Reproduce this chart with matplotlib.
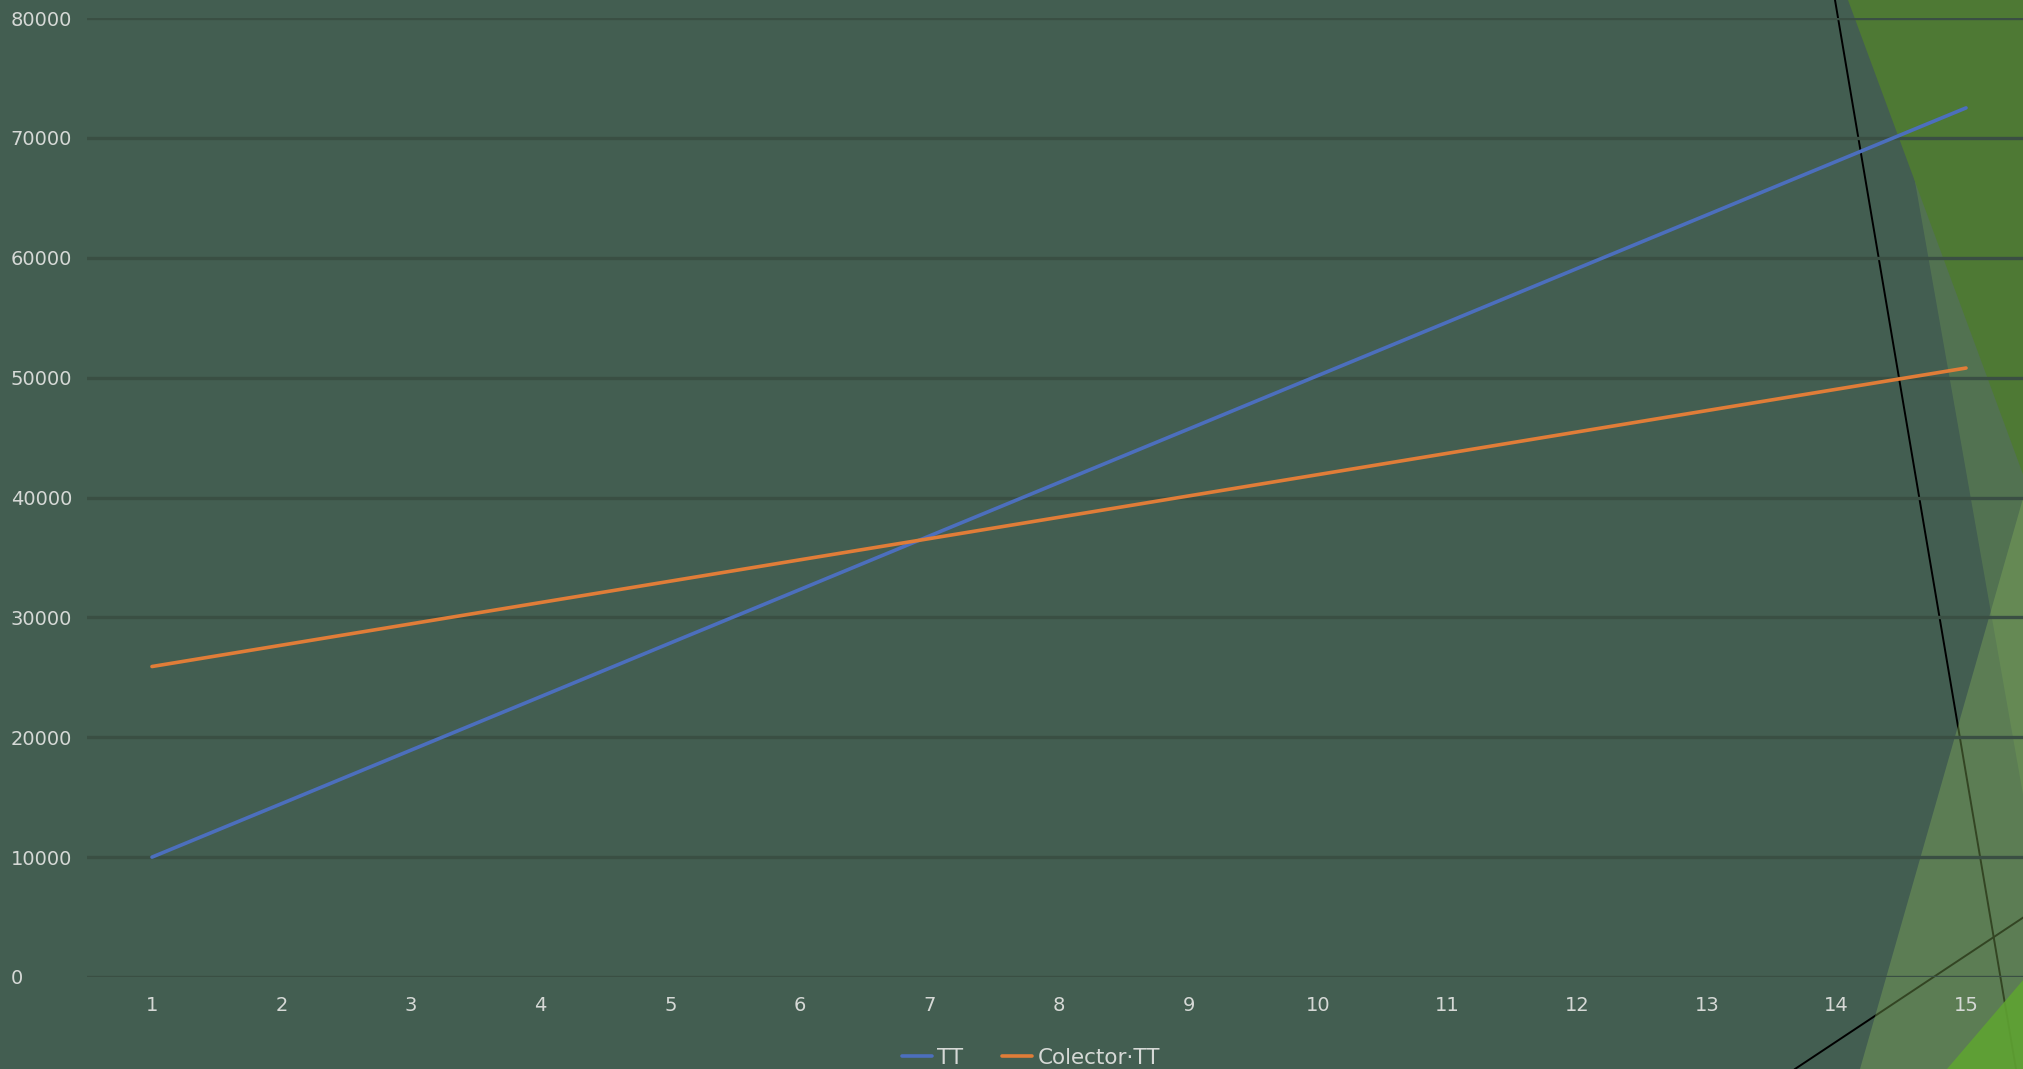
import matplotlib
matplotlib.use("Agg")
import matplotlib.pyplot as plt
from matplotlib.patches import Polygon

# series values per period
periods = list(range(1, 16))
tt = [10000, 14460, 18930, 23390, 27860, 32320, 36790, 41250,
      45710, 50180, 54640, 59110, 63570, 68040, 72500]
colector_tt = [25900, 27680, 29460, 31240, 33020, 34800, 36570, 38350,
               40130, 41910, 43690, 45470, 47250, 49030, 50800]
series_names = ["TT", "Colector·TT"]
y_ticks = [0, 10000, 20000, 30000, 40000, 50000, 60000, 70000, 80000]

BG = "#435e51"
TEXT = "#d6d9d6"
W, H = 2024, 1069

fig = plt.figure(figsize=(W / 100, H / 100), dpi=100, facecolor=BG)

# slide decoration behind the chart (pixel space)
deco = fig.add_axes([0, 0, 1, 1])
deco.set_xlim(0, W)
deco.set_ylim(H, 0)
deco.axis("off")
deco.set_facecolor(BG)
deco.add_patch(Polygon([(1883, 0), (W, 0), (W, 800)], closed=True,
                       facecolor="#6f9a52", alpha=0.35, lw=0, zorder=1))
deco.add_patch(Polygon([(1848, 0), (W, 0), (W, 477)], closed=True,
                       facecolor="#4e7934", lw=0, zorder=2))
deco.plot([1835, 2016], [0, 1069], color="black", lw=1.4, zorder=3)
deco.plot([1795, W], [1069, 917], color="black", lw=1.4, zorder=3)
deco.add_patch(Polygon([(W, 495), (W, H), (1860, H)], closed=True,
                       facecolor="#82ad5a", alpha=0.4, lw=0, zorder=4))
deco.add_patch(Polygon([(W, 979), (W, H), (1947, H)], closed=True,
                       facecolor="#5fa332", alpha=0.9, lw=0, zorder=5))

ax = fig.add_axes([87.2 / W, 1 - 977 / H, (2030.8 - 87.2) / W, (977 - 18) / H])
ax.patch.set_alpha(0)
ax.set_xlim(0.5, 15.5)
ax.set_ylim(0, 80000)

ax.set_yticks(y_ticks)
ax.set_yticklabels([str(v) for v in y_ticks])
ax.set_xticks(periods)
ax.set_xticklabels([str(p) for p in periods])
ax.grid(axis="y", color="#3a4f43", lw=2.4, zorder=1)
ax.set_axisbelow(True)
for s in ax.spines.values():
    s.set_visible(False)

ax.tick_params(axis="y", length=0, pad=55, labelsize=14, labelcolor=TEXT)
ax.tick_params(axis="x", length=0, pad=14, labelsize=14, labelcolor=TEXT)
for lbl in ax.get_yticklabels():
    lbl.set_horizontalalignment("left")

ax.plot(periods, tt, color="#4c6fbd", lw=2.6, solid_capstyle="round",
        label=series_names[0], zorder=3)
ax.plot(periods, colector_tt, color="#e07d38", lw=2.6, solid_capstyle="round",
        label=series_names[1], zorder=3)

fig.legend(loc="center", bbox_to_anchor=(1031 / W, 1 - 1058 / H), ncol=2,
           frameon=False, fontsize=15.5, labelcolor=TEXT, handlelength=1.4,
           handletextpad=0.25, columnspacing=1.8)

fig.savefig("out.png", dpi=100, facecolor=BG)
